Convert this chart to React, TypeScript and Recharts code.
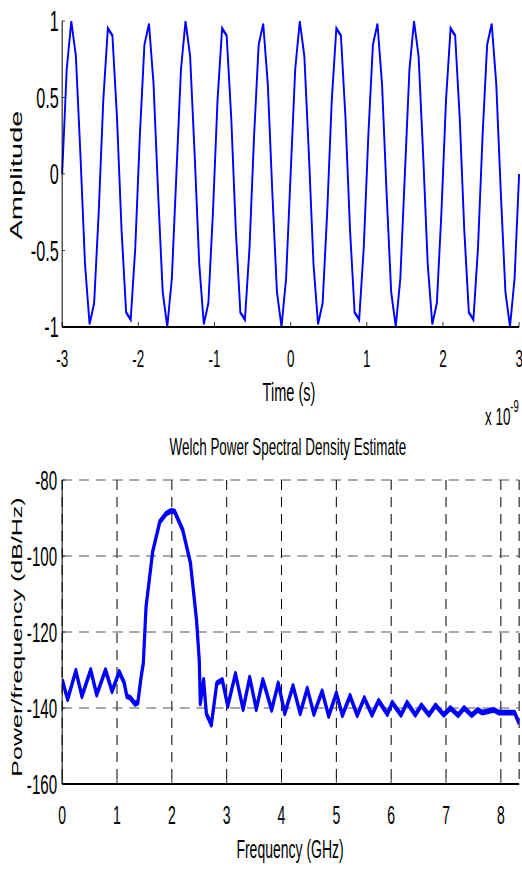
import { LineChart, Line, XAxis, YAxis, CartesianGrid } from "recharts"

// time axis in ns (shown as x 10^-9 s)
const times = [
  -3, -2.94, -2.88, -2.82, -2.76, -2.7, -2.64, -2.58, -2.52, -2.46, -2.4, -2.34, -2.28, -2.22, -2.16, -2.1, -2.04, -1.98, -1.92, -1.86, -1.8, -1.74, -1.68, -1.62, -1.56,
  -1.5, -1.44, -1.38, -1.32, -1.26, -1.2, -1.14, -1.08, -1.02, -0.96, -0.9, -0.84, -0.78, -0.72, -0.66, -0.6, -0.54, -0.48, -0.42, -0.36, -0.3, -0.24, -0.18, -0.12, -0.06,
  0, 0.06, 0.12, 0.18, 0.24, 0.3, 0.36, 0.42, 0.48, 0.54, 0.6, 0.66, 0.72, 0.78, 0.84, 0.9, 0.96, 1.02, 1.08, 1.14, 1.2, 1.26, 1.32, 1.38, 1.44,
  1.5, 1.56, 1.62, 1.68, 1.74, 1.8, 1.86, 1.92, 1.98, 2.04, 2.1, 2.16, 2.22, 2.28, 2.34, 2.4, 2.46, 2.52, 2.58, 2.64, 2.7, 2.76, 2.82, 2.88, 2.94,
  3,
]

const amplitude = [
  0, 0.685, 0.998, 0.771, 0.125, -0.588, -0.982, -0.844, -0.249, 0.482, 0.951, 0.905, 0.368, -0.368, -0.905, -0.951, -0.482, 0.249, 0.844, 0.982, 0.588, -0.125, -0.771, -0.998, -0.685,
  0, 0.685, 0.998, 0.771, 0.125, -0.588, -0.982, -0.844, -0.249, 0.482, 0.951, 0.905, 0.368, -0.368, -0.905, -0.951, -0.482, 0.249, 0.844, 0.982, 0.588, -0.125, -0.771, -0.998, -0.685,
  0, 0.685, 0.998, 0.771, 0.125, -0.588, -0.982, -0.844, -0.249, 0.482, 0.951, 0.905, 0.368, -0.368, -0.905, -0.951, -0.482, 0.249, 0.844, 0.982, 0.588, -0.125, -0.771, -0.998, -0.685,
  0, 0.685, 0.998, 0.771, 0.125, -0.588, -0.982, -0.844, -0.249, 0.482, 0.951, 0.905, 0.368, -0.368, -0.905, -0.951, -0.482, 0.249, 0.844, 0.982, 0.588, -0.125, -0.771, -0.998, -0.685,
  0,
]

const timeTicks = [-3, -2, -1, 0, 1, 2, 3]
const ampTicks = [-1, -0.5, 0, 0.5, 1]

// Welch PSD, frequency in GHz, power in dB/Hz
const freqs = [
  0, 0.1, 0.25, 0.36, 0.52, 0.63, 0.79, 0.91, 1.04, 1.13, 1.18, 1.24, 1.33, 1.38, 1.44, 1.48,
  1.53, 1.65, 1.78, 1.9, 1.99, 2.05, 2.2, 2.34, 2.45, 2.5, 2.52, 2.58, 2.63, 2.72, 2.82, 2.92,
  3.02, 3.16, 3.3, 3.42, 3.54, 3.66, 3.82, 3.94, 4.06, 4.21, 4.34, 4.47, 4.59, 4.74, 4.86, 5.0,
  5.11, 5.25, 5.38, 5.51, 5.65, 5.77, 5.93, 6.02, 6.18, 6.29, 6.44, 6.55, 6.69, 6.81, 6.96, 7.08,
  7.22, 7.33, 7.47, 7.58, 7.66, 7.87, 7.96, 8.25, 8.333,
]

const psd = [
  -132.6, -137.7, -130.2, -136.9, -130, -136.5, -130, -135.6, -130.5, -133.3, -136.9, -137.3, -138.9, -138.6, -131.8, -128.2,
  -113.3, -98.9, -91, -88.8, -88.1, -88.3, -93.2, -101.9, -116.8, -127.4, -138.8, -132.6, -141.5, -144.4, -133.5, -132.6,
  -139.5, -131, -140.3, -132, -140.3, -132.6, -140.5, -133.5, -141.4, -134.2, -141.4, -134.9, -141.6, -135.6, -142.1, -136.1,
  -141.9, -136.8, -141.9, -137.4, -141.8, -138.1, -141.6, -138.6, -141.8, -138.6, -141.8, -139.3, -141.8, -139.3, -141.8, -140,
  -141.9, -140, -141.9, -140.5, -141.2, -140.5, -141.2, -141.2, -144,
]

const freqTicks = [0, 1, 2, 3, 4, 5, 6, 7, 8]
const powerTicks = [-160, -140, -120, -100, -80]

const timeData = times.map((t, i) => ({ t, a: amplitude[i] }))
const psdData = freqs.map((f, i) => ({ f, p: psd[i] }))

// the reference is squeezed horizontally, so draw wide and scale x
const SX = 0.56
const W = 932
const FONT = "'Liberation Sans', Arial, Helvetica, sans-serif"
const BLUE = "#0000ff"

const tickStyle = (size: number) => ({ fill: "#000", fontSize: size, fontFamily: FONT })
const axisLine = { stroke: "#000", strokeWidth: 1.8 }

export default function App() {
  return (
    <div
      style={{
        position: "absolute",
        left: 0,
        top: 0,
        width: W,
        height: 870,
        transform: `scaleX(${SX})`,
        transformOrigin: "0 0",
        fontFamily: FONT,
        color: "#000",
        background: "#fff",
      }}
    >
      {/* top: time signal */}
      <div style={{ position: "absolute", left: 0, top: 0 }}>
        <LineChart width={W} height={400} data={timeData} margin={{ top: 21, right: 5, left: 0, bottom: 13 }}>
          <XAxis
            xAxisId="b"
            dataKey="t"
            type="number"
            domain={[-3, 3]}
            ticks={timeTicks}
            interval={0}
            height={60}
            tickSize={-5}
            tickMargin={28}
            axisLine={axisLine}
            tickLine={{ stroke: "#000" }}
            tick={tickStyle(24)}
          />
          <XAxis
            xAxisId="t"
            orientation="top"
            type="number"
            domain={[-3, 3]}
            ticks={timeTicks}
            interval={0}
            height={0}
            tickSize={-5}
            axisLine={axisLine}
            tickLine={{ stroke: "#000" }}
            tick={false}
          />
          <YAxis
            yAxisId="l"
            type="number"
            domain={[-1, 1]}
            ticks={ampTicks}
            interval={0}
            width={111}
            tickSize={-5}
            tickMargin={11}
            axisLine={axisLine}
            tickLine={{ stroke: "#000" }}
            tick={tickStyle(29)}
          />
          <YAxis
            yAxisId="r"
            orientation="right"
            type="number"
            domain={[-1, 1]}
            ticks={ampTicks}
            interval={0}
            width={0}
            tickSize={-5}
            axisLine={axisLine}
            tickLine={{ stroke: "#000" }}
            tick={false}
          />
          <Line
            xAxisId="b"
            yAxisId="l"
            dataKey="a"
            type="linear"
            stroke={BLUE}
            strokeWidth={3.4}
            dot={false}
            isAnimationActive={false}
          />
        </LineChart>
      </div>

      <div style={{ position: "absolute", left: 30, top: 175, transform: "translate(-50%, -50%) rotate(-90deg)", fontSize: 29, whiteSpace: "nowrap" }}>
        Amplitude
      </div>
      <div style={{ position: "absolute", left: 516, top: 392, transform: "translate(-50%, -50%)", fontSize: 26, whiteSpace: "nowrap" }}>
        Time (s)
      </div>
      <div style={{ position: "absolute", left: 866, top: 402, fontSize: 24, lineHeight: 1, whiteSpace: "nowrap" }}>
        x 10<sup style={{ fontSize: 17, position: "relative", top: -4 }}>-9</sup>
      </div>
      <div style={{ position: "absolute", left: 514, top: 447, transform: "translate(-50%, -50%)", fontSize: 24, whiteSpace: "nowrap" }}>
        Welch Power Spectral Density Estimate
      </div>

      {/* bottom: power spectral density */}
      <div style={{ position: "absolute", left: 0, top: 420 }}>
        <LineChart width={W} height={450} data={psdData} margin={{ top: 60, right: 5, left: 0, bottom: 26 }}>
          <CartesianGrid xAxisId="b" yAxisId="l" horizontal={false} stroke="#000" strokeWidth={1.8} strokeDasharray="10 7" />
          <CartesianGrid xAxisId="b" yAxisId="l" vertical={false} stroke="#555" strokeWidth={1.2} strokeDasharray="18 12" />
          <XAxis
            xAxisId="b"
            dataKey="f"
            type="number"
            domain={[0, 8.333]}
            ticks={freqTicks}
            interval={0}
            allowDataOverflow
            height={60}
            tickSize={-5}
            tickMargin={27}
            axisLine={axisLine}
            tickLine={{ stroke: "#000" }}
            tick={tickStyle(25)}
          />
          <XAxis
            xAxisId="t"
            orientation="top"
            type="number"
            domain={[0, 8.333]}
            ticks={freqTicks}
            interval={0}
            height={0}
            tickSize={-5}
            axisLine={axisLine}
            tickLine={{ stroke: "#000" }}
            tick={false}
          />
          <YAxis
            yAxisId="l"
            type="number"
            domain={[-160, -80]}
            ticks={powerTicks}
            interval={0}
            width={111}
            tickSize={-5}
            tickMargin={14}
            axisLine={axisLine}
            tickLine={{ stroke: "#000" }}
            tick={tickStyle(27)}
          />
          <YAxis
            yAxisId="r"
            orientation="right"
            type="number"
            domain={[-160, -80]}
            ticks={powerTicks}
            interval={0}
            width={0}
            tickSize={-5}
            axisLine={axisLine}
            tickLine={{ stroke: "#000" }}
            tick={false}
          />
          <Line
            xAxisId="b"
            yAxisId="l"
            dataKey="p"
            type="linear"
            stroke={BLUE}
            strokeWidth={5.8}
            strokeLinejoin="round"
            dot={false}
            isAnimationActive={false}
          />
        </LineChart>
      </div>

      <div style={{ position: "absolute", left: 30, top: 637, transform: "translate(-50%, -50%) rotate(-90deg)", fontSize: 25, whiteSpace: "nowrap" }}>
        Power/frequency (dB/Hz)
      </div>
      <div style={{ position: "absolute", left: 518, top: 849, transform: "translate(-50%, -50%)", fontSize: 25, whiteSpace: "nowrap" }}>
        Frequency (GHz)
      </div>
    </div>
  )
}
